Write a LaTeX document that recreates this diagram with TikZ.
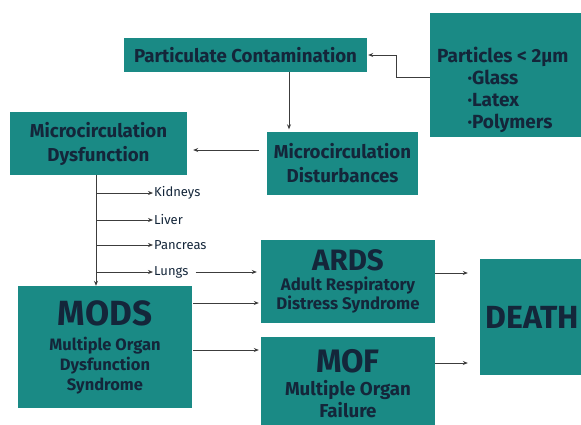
\documentclass[tikz,border=0pt]{standalone}
\usepackage{fontspec}
\setmainfont{Fira Sans}
\usetikzlibrary{arrows.meta}
\definecolor{tealbox}{RGB}{26,138,133}
\definecolor{navytext}{RGB}{20,38,58}
\definecolor{linegray}{RGB}{60,60,60}
\begin{document}
\begin{tikzpicture}[x=1pt, y=-1pt,
        box/.style={fill=tealbox, text=navytext, font=\bfseries, align=center, inner sep=2pt},
        organ/.style={anchor=west, inner sep=1pt, text=navytext, font=\fontsize{13}{13}\selectfont\addfontfeature{Weight=300}},
        arr/.style={-{Stealth[length=5pt,width=4pt]}, draw=linegray, line width=0.7pt}]
            \clip (0, 0) rectangle (581, 424);
            \useasboundingbox (0, 0) rectangle (581, 424);

            \node[box, minimum width=243, minimum height=34, font=\bfseries\fontsize{18.7}{20}\selectfont] (part) at (245.5, 55) {Particulate Contamination};
            \node[box, minimum width=155, minimum height=124] (src) at (507.5, 75) {};
            \node[anchor=north west, inner sep=0pt, align=left, text=navytext, font=\bfseries\fontsize{19}{22}\selectfont] (srclist) at (437, 47) {Particles < 2µm\\\hspace*{1.6em}·Glass\\\hspace*{1.6em}·Latex\\\hspace*{1.6em}·Polymers};
            \node[box, minimum width=177, minimum height=63, font=\bfseries\fontsize{18.7}{24}\selectfont] (dysf) at (98.5, 143.5) {Microcirculation\\Dysfunction};
            \node[box, minimum width=151, minimum height=63, font=\bfseries\fontsize{18.7}{24}\selectfont] (dist) at (342.5, 163) {Microcirculation\\Disturbances};

            \node[box, minimum width=174, minimum height=122, font=\bfseries\fontsize{16.5}{20}\selectfont] (mods) at (105, 347) {{\fontsize{35}{35}\selectfont MODS}\\[5pt]Multiple Organ\\Dysfunction\\Syndrome};
            \node[box, minimum width=174, minimum height=83, font=\bfseries\fontsize{16.8}{19}\selectfont] (ards) at (348, 281.5) {{\fontsize{29.5}{30}\selectfont ARDS}\\[1pt]Adult Respiratory\\Distress Syndrome};
            \node[box, minimum width=174, minimum height=94, font=\bfseries\fontsize{18.7}{22}\selectfont] (mof) at (348, 384) {{\fontsize{32.5}{33}\selectfont MOF}\\[1pt]Multiple Organ\\Failure};
            \node[box, minimum width=105, minimum height=116, font=\bfseries\fontsize{32}{32}\selectfont] (death) at (532.5, 317) {DEATH};

            % organs hanging off the trunk
            \node[organ] (kidneys) at (153, 193) {Kidneys};
            \node[organ] (liver) at (153, 220) {Liver};
            \node[organ] (pancreas) at (153, 245) {Pancreas};
            \node[organ] (lungs) at (153, 272) {Lungs};
            \coordinate (kid) at (96, 193);
            \coordinate (liv) at (96, 220);
            \coordinate (pan) at (96, 245);
            \coordinate (lun) at (96, 272);

            \draw[arr] ([yshift=-2pt]src.west) -| ([xshift=29pt]part.east) -- ([xshift=1pt]part.east);
            \draw[arr] ([xshift=43.5pt]part.south) -- ([xshift=43.5pt, yshift=2pt]part.south |- dist.north);
            \draw[arr, shorten <=8pt, shorten >=6pt] ([yshift=13pt]dist.west) -- ([yshift=13pt]dist.west -| dysf.east);
            \draw[arr] ([xshift=-2.5pt]dysf.south) -- ([xshift=-2.5pt]dysf.south |- mods.north);

            \draw[arr] (kid) -- (kidneys.west);
            \draw[arr] (liv) -- (liver.west);
            \draw[arr] (pan) -- (pancreas.west);
            \draw[arr] (lun) -- (lungs.west);

            \draw[arr, shorten <=6pt, shorten >=4pt] (lungs.east) -- (lungs.east -| ards.west);
            \draw[arr, shorten <=1pt, shorten >=2pt] ([yshift=44pt]mods.east) -- ([yshift=44pt]mods.east -| ards.west);
            \draw[arr, shorten <=1pt, shorten >=2pt] ([yshift=-3pt]mods.east) -- ([yshift=-3pt]mods.east -| mof.west);
            \draw[arr, shorten >=12pt] ([yshift=8.5pt]ards.east) -- ([yshift=8.5pt]ards.east -| death.west);
            \draw[arr, shorten >=12pt] ([yshift=21pt]mof.east) -- ([yshift=21pt]mof.east -| death.west);
        \end{tikzpicture}
\end{document}
